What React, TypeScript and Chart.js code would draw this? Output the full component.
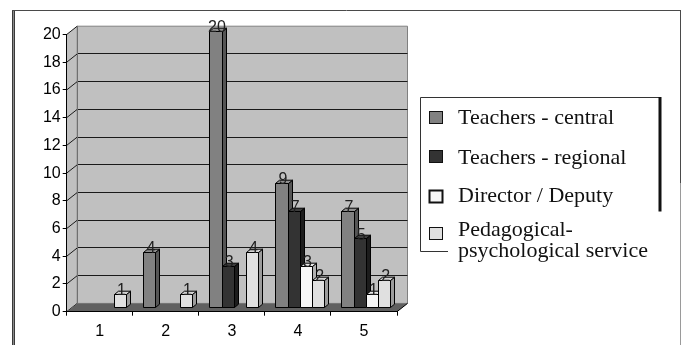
import React, { useEffect, useRef } from 'react';
import { Chart, registerables } from 'chart.js';

Chart.register(...registerables);

// ---- data ----
const CATEGORIES = ['1', '2', '3', '4', '5'];
const SERIES_NAMES = [
  'Teachers - central',
  'Teachers - regional',
  'Director / Deputy',
  'Pedagogical-psychological service',
];
const TEACHERS_CENTRAL = [null, 4, 20, 9, 7];
const TEACHERS_REGIONAL = [null, null, 3, 7, 5];
const DIRECTOR_DEPUTY = [null, null, null, 3, 1];
const PSYCH_SERVICE = [1, 1, 4, 2, 2];
const Y_MAX = 20;
const Y_STEP = 2;

const SERIES_VALUES = [TEACHERS_CENTRAL, TEACHERS_REGIONAL, DIRECTOR_DEPUTY, PSYCH_SERVICE];

// ---- styling ----
const FRONT = ['#818181', '#333333', '#f7f7f7', '#e0e0e0'];
const SIDE = ['#555555', '#1c1c1c', '#b0b0b0', '#9c9c9c'];
const TOP = ['#8f8f8f', '#3d3d3d', '#e9e9e9', '#d2d2d2'];
const WALL = '#c0c0c0';
const FLOOR = '#606060';
const SANS = '"Liberation Sans", Arial, Helvetica, sans-serif';
const SERIF = '"Liberation Serif", "Times New Roman", Times, serif';

// depth of the 3-D box (walls / floor) and of the bars
const WALL_DEPTH = { x: 10.5, y: -8.3 };
const BAR_SHIFT = { x: 2.4, y: -3.4 };
const BAR_DEPTH = { x: 4, y: -3.3 };

const LEGEND = {
  left: 420.5,
  top: 97.5,
  right: 659.5,
  rightEnd: 212,
  bottom: 251.5,
  bottomEnd: 448,
  swatchX: 429.5,
  swatchW: 13,
  swatchH: 12,
  swatchTops: [111.5, 150.5, 190.5, 227.5],
  textX: 458,
  baselines: [124, 163.5, 201.5, 235.5],
  lineGap: 21.5,
  maxWidth: 196,
};

const crisp = (v: number) => Math.round(v - 0.5) + 0.5;

function poly(ctx: CanvasRenderingContext2D, pts: number[][], fill: string | null, stroke: string | null) {
  ctx.beginPath();
  ctx.moveTo(pts[0][0], pts[0][1]);
  for (let i = 1; i < pts.length; i++) ctx.lineTo(pts[i][0], pts[i][1]);
  ctx.closePath();
  if (fill) {
    ctx.fillStyle = fill;
    ctx.fill();
  }
  if (stroke) {
    ctx.strokeStyle = stroke;
    ctx.lineWidth = 1;
    ctx.stroke();
  }
}

function wrapText(ctx: CanvasRenderingContext2D, text: string, maxWidth: number): string[] {
  if (ctx.measureText(text).width <= maxWidth) return [text];
  // break after a hyphen or at a space, keeping the first line as long as possible
  for (let i = text.length - 1; i > 0; i--) {
    const ch = text[i];
    if (ch === '-' || ch === ' ') {
      const head = ch === '-' ? text.slice(0, i + 1) : text.slice(0, i);
      if (ctx.measureText(head).width <= maxWidth) {
        return [head, ...wrapText(ctx, text.slice(i + 1), maxWidth)];
      }
    }
  }
  return [text];
}

const scenePlugin = {
  id: 'scene3d',
  beforeDraw(chart: any) {
    const { ctx, chartArea: a, scales } = chart;
    const y = scales.y;
    const dx = WALL_DEPTH.x;
    const dy = WALL_DEPTH.y;
    ctx.save();
    ctx.fillStyle = '#ffffff';
    ctx.fillRect(0, 0, chart.width, chart.height);

    const L = a.left;
    const R = a.right;
    const T = a.top;
    const B = a.bottom;

    // side wall and back wall
    poly(ctx, [[L, T], [L + dx, T + dy], [L + dx, B + dy], [L, B]], WALL, null);
    poly(ctx, [[L + dx, T + dy], [R + dx, T + dy], [R + dx, B + dy], [L + dx, B + dy]], WALL, '#808080');

    // gridlines on the back wall plus their continuation over the side wall
    ctx.lineWidth = 1;
    for (const t of y.ticks) {
      const py = y.getPixelForValue(t.value);
      ctx.strokeStyle = '#1a1a1a';
      ctx.beginPath();
      ctx.moveTo(L, py);
      ctx.lineTo(L + dx, py + dy);
      if (t.value !== 0 && t.value !== Y_MAX) {
        ctx.moveTo(L + dx, crisp(py + dy));
        ctx.lineTo(R + dx, crisp(py + dy));
      }
      ctx.stroke();
    }
    ctx.strokeStyle = '#707070';
    ctx.beginPath();
    ctx.moveTo(crisp(L + dx), T + dy);
    ctx.lineTo(crisp(L + dx), B + dy);
    ctx.stroke();

    // floor
    poly(ctx, [[L, B], [R, B], [R + dx, B + dy], [L + dx, B + dy]], FLOOR, null);
    ctx.strokeStyle = '#000';
    ctx.beginPath();
    ctx.moveTo(R, B);
    ctx.lineTo(R + dx, B + dy);
    ctx.stroke();
    ctx.restore();
  },

  beforeDatasetsDraw(chart: any) {
    const { ctx } = chart;
    ctx.save();
    const bars: any[] = [];
    chart.data.datasets.forEach((ds: any, di: number) => {
      const meta = chart.getDatasetMeta(di);
      meta.data.forEach((el: any, i: number) => {
        const v = ds.data[i];
        if (v == null) return;
        const p = el.getProps(['x', 'y', 'base', 'width'], true);
        bars.push({ di, i, v, ...p });
      });
    });
    bars.sort((a, b) => a.i - b.i || a.di - b.di);

    for (const b of bars) {
      const L = crisp(b.x - b.width / 2 + BAR_SHIFT.x);
      const R = crisp(b.x + b.width / 2 + BAR_SHIFT.x);
      const T = crisp(b.y + BAR_SHIFT.y);
      const Bt = crisp(b.base + BAR_SHIFT.y);
      const ddx = BAR_DEPTH.x;
      const ddy = BAR_DEPTH.y;
      poly(ctx, [[R, T], [R + ddx, T + ddy], [R + ddx, Bt + ddy], [R, Bt]], SIDE[b.di], '#000');
      poly(ctx, [[L, T], [L + ddx, T + ddy], [R + ddx, T + ddy], [R, T]], TOP[b.di], '#000');
      poly(ctx, [[L, T], [R, T], [R, Bt], [L, Bt]], FRONT[b.di], '#000');
    }

    // value labels
    ctx.font = `16px ${SANS}`;
    ctx.fillStyle = '#202020';
    ctx.textAlign = 'center';
    ctx.textBaseline = 'alphabetic';
    for (const b of bars) {
      const cx = b.x + BAR_SHIFT.x + 1;
      const ty = b.y + BAR_SHIFT.y + 0.5;
      ctx.fillText(String(b.v), cx, ty);
    }
    ctx.restore();
    return false;
  },

  afterDraw(chart: any) {
    const { ctx } = chart;
    ctx.save();

    // outer frame
    ctx.fillStyle = '#8a8a8a';
    ctx.fillRect(12, 10, 3, chart.height - 10);
    ctx.fillStyle = '#3a3a3a';
    ctx.fillRect(12, 10, 1, chart.height - 10);
    ctx.fillRect(14, 10, 1, chart.height - 10);
    ctx.strokeStyle = '#4a4a4a';
    ctx.lineWidth = 1;
    ctx.beginPath();
    ctx.moveTo(12, 10.5);
    ctx.lineTo(681, 10.5);
    ctx.moveTo(680.5, 10);
    ctx.lineTo(680.5, 183);
    ctx.stroke();
    ctx.strokeStyle = '#9a9a9a';
    ctx.beginPath();
    ctx.moveTo(680.5, 183);
    ctx.lineTo(680.5, chart.height);
    ctx.stroke();

    // legend frame
    ctx.strokeStyle = '#333';
    ctx.lineWidth = 1;
    ctx.beginPath();
    ctx.moveTo(LEGEND.left, LEGEND.bottom);
    ctx.lineTo(LEGEND.left, LEGEND.top);
    ctx.lineTo(LEGEND.right, LEGEND.top);
    ctx.moveTo(LEGEND.left, LEGEND.bottom);
    ctx.lineTo(LEGEND.bottomEnd, LEGEND.bottom);
    ctx.stroke();
    ctx.fillStyle = '#111';
    ctx.fillRect(LEGEND.right - 1, LEGEND.top - 0.5, 3, LEGEND.rightEnd - LEGEND.top);

    // legend entries
    ctx.font = `22px ${SERIF}`;
    ctx.textAlign = 'left';
    ctx.textBaseline = 'alphabetic';
    chart.data.datasets.forEach((ds: any, di: number) => {
      const top = LEGEND.swatchTops[di];
      ctx.fillStyle = FRONT[di];
      ctx.fillRect(LEGEND.swatchX, top, LEGEND.swatchW, LEGEND.swatchH);
      ctx.strokeStyle = '#111';
      ctx.lineWidth = di === 2 ? 2 : 1;
      ctx.strokeRect(LEGEND.swatchX, top, LEGEND.swatchW, LEGEND.swatchH);
      ctx.fillStyle = '#111';
      const lines = wrapText(ctx, ds.label, LEGEND.maxWidth);
      lines.forEach((ln, k) => {
        ctx.fillText(ln, LEGEND.textX, LEGEND.baselines[di] + k * LEGEND.lineGap);
      });
    });
    ctx.restore();
  },
};

export default function App() {
  const canvasRef = useRef<HTMLCanvasElement | null>(null);

  useEffect(() => {
    const canvas = canvasRef.current;
    if (!canvas) return;
    const tickFont = { family: SANS, size: 16 };
    const chart = new Chart(canvas, {
      type: 'bar',
      data: {
        labels: CATEGORIES,
        datasets: SERIES_VALUES.map((values, i) => ({
          label: SERIES_NAMES[i],
          data: values,
          backgroundColor: FRONT[i],
          borderColor: '#000',
          borderWidth: 1,
        })),
      },
      options: {
        animation: false,
        responsive: false,
        devicePixelRatio: 1,
        layout: { padding: { top: 34.5, right: 285, left: 0, bottom: 0 } },
        datasets: { bar: { categoryPercentage: 0.739, barPercentage: 1 } },
        plugins: { legend: { display: false }, tooltip: { enabled: false } },
        scales: {
          x: {
            grid: { drawOnChartArea: false, offset: true, tickLength: 4, color: '#000' },
            border: { color: '#000' },
            ticks: { font: tickFont, color: '#000', padding: 6 },
            afterFit: (s: any) => {
              s.height = 33.3;
            },
          },
          y: {
            min: 0,
            max: Y_MAX,
            ticks: { stepSize: Y_STEP, font: tickFont, color: '#000', padding: 2 },
            grid: { drawOnChartArea: false, tickLength: 4, color: '#000' },
            border: { color: '#000' },
            afterFit: (s: any) => {
              s.width = 66.7;
            },
          },
        },
      } as any,
      plugins: [scenePlugin as any],
    });
    return () => chart.destroy();
  }, []);

  return (
    <div style={{ position: 'fixed', left: 0, top: 0, width: 682, height: 345, background: '#fff' }}>
      <canvas ref={canvasRef} width={682} height={345} style={{ display: 'block' }} />
    </div>
  );
}
